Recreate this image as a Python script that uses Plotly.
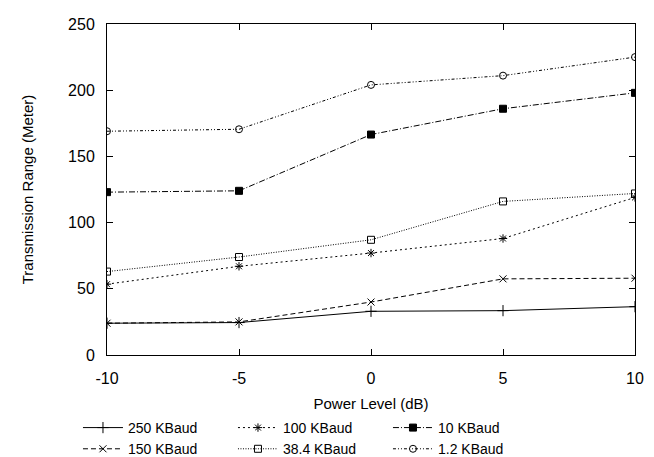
import plotly.graph_objects as go

power_db = [-10, -5, 0, 5, 10]
x_tick_text = ["-10", "-5", "0", "5", "10"]
y_tick_vals = [0, 50, 100, 150, 200, 250]
series_names = ["250 KBaud", "150 KBaud", "100 KBaud", "38.4 KBaud", "10 KBaud", "1.2 KBaud"]
range_250k = [24, 24.5, 33, 33.5, 36.5]
range_150k = [24, 25, 40, 57.5, 58]
range_100k = [53.5, 67, 77, 88, 119]
range_38k4 = [63, 74, 87, 116, 122]
range_10k = [123, 124, 166.5, 186, 198]
range_1k2 = [169, 170.5, 204, 211, 225]

values = [range_250k, range_150k, range_100k, range_38k4, range_10k, range_1k2]
dashes = ["solid", "5px,3px", "2px,3px", "1px,1.5px", "6px,2px,1px,2px", "3px,2px,1px,2px,1px,2px"]
symbols = ["cross-thin-open", "x-thin-open", "asterisk-open", "square-open", "square", "circle-open"]
sizes = [8, 7, 7, 7, 7, 7]
ranks = [1, 4, 2, 5, 3, 6]

FONT = "Liberation Sans, Arial, sans-serif"

fig = go.Figure()
for name, vals, dash, sym, sz, rk in zip(series_names, values, dashes, symbols, sizes, ranks):
    fig.add_trace(go.Scatter(
        x=power_db, y=vals, name=name, mode="lines+markers",
        line=dict(color="black", width=1, dash=dash),
        marker=dict(symbol=sym, size=sz, color="black", line=dict(color="black", width=1)),
        legendrank=rk,
    ))

axis_common = dict(
    showline=True, linecolor="black", linewidth=1, mirror="allticks",
    ticks="inside", ticklen=6, tickcolor="black", showgrid=False, zeroline=False,
    automargin=False,
    tickfont=dict(family=FONT, size=16, color="black"),
)

fig.update_layout(
    width=654, height=457,
    margin=dict(l=99, r=27, t=16, b=110),
    paper_bgcolor="white", plot_bgcolor="white",
    font=dict(family=FONT, size=15, color="black"),
    xaxis=dict(range=[-10, 10], tickvals=power_db, ticktext=x_tick_text,
               ticklabelstandoff=9,
               title=dict(text="Power Level (dB)", standoff=12, font=dict(size=15)),
               **axis_common),
    yaxis=dict(range=[0, 250], tickvals=y_tick_vals,
               ticklabelstandoff=8,
               title=dict(text="Transmission Range (Meter)", standoff=30, font=dict(size=15)),
               **axis_common),
    legend=dict(orientation="h", xref="container", yref="container",
                x=0.107, xanchor="left", y=0.116, yanchor="top",
                entrywidth=100, entrywidthmode="pixels",
                font=dict(size=14), itemwidth=40, bgcolor="rgba(0,0,0,0)"),
)

fig.write_html("out.html")
